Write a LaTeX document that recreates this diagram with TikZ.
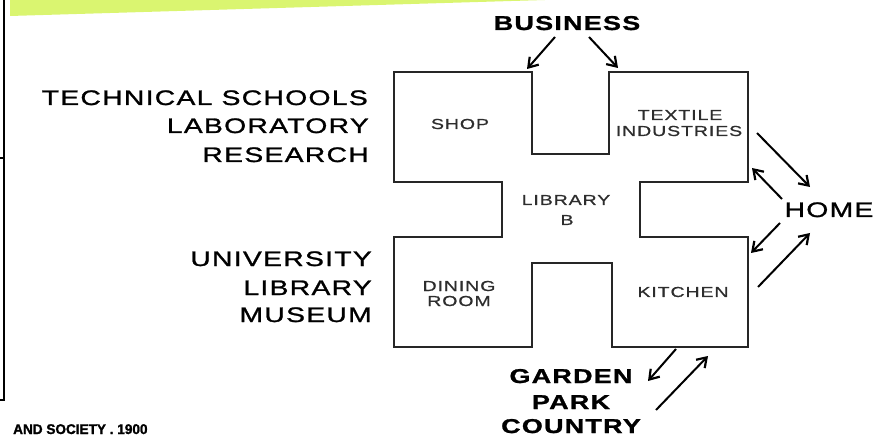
\documentclass[tikz,border=0pt]{standalone}
\usepackage{fontspec}
\setmainfont{Liberation Sans}
\newfontfamily\widefont[FakeStretch=1.35,LetterSpace=6,FakeBold=1.2]{Liberation Sans}
\newfontfamily\heavyfont[FakeStretch=1.35,LetterSpace=6,FakeBold=1.2]{Liberation Sans Bold}
\newfontfamily\roomfont[FakeStretch=1.35,LetterSpace=6,FakeBold=0.8]{Liberation Sans}
\newfontfamily\captionfont[FakeStretch=0.97,FakeBold=1.5]{Liberation Sans Bold}
\usetikzlibrary{arrows.meta}

\definecolor{bandgreen}{RGB}{218,245,112}
\definecolor{roomgray}{RGB}{45,45,45}

\tikzset{
  wall/.style={line width=2pt, draw=black!85, line join=miter},
  flow/.style={line width=2pt, -{Straight Barb[length=9pt,width=12pt,line width=2.2pt]}},
  biglabel/.style={inner sep=0pt, anchor=base east, font=\widefont\fontsize{21}{28}\selectfont},
  boldlabel/.style={inner sep=0pt, anchor=base, font=\heavyfont\fontsize{20}{28}\selectfont},
  roomlabel/.style={inner sep=0pt, anchor=base, text=roomgray, font=\roomfont\fontsize{14.5}{16}\selectfont}
}

\begin{document}
\begin{tikzpicture}[x=1pt, y=-1pt]
    \useasboundingbox (0,0) rectangle (875,438);

    % band and frame
    \fill[bandgreen] (10,0) -- (10,16) -- (545,0) -- cycle;
    \draw[line width=2pt] (4,0) -- (4,400) -- (0,400);
    \draw[line width=2pt] (0,158) -- (4,158);

    % plan of the house
    \draw[wall] (394,72) -- (532,72) -- (532,154) -- (609,154) -- (609,72)
        -- (748,72) -- (748,182) -- (640,182) -- (640,237) -- (748,237)
        -- (748,347) -- (612,347) -- (612,263) -- (532,263) -- (532,347)
        -- (394,347) -- (394,237) -- (502,237) -- (502,182) -- (394,182) -- cycle;

    % rooms
    \node[roomlabel] (shop) at (460,129) {SHOP};
    \node[roomlabel] (textile) at (680,120) {TEXTILE};
    \node[roomlabel] (industries) at (679,136) {INDUSTRIES};
    \node[roomlabel] (library) at (566,205) {LIBRARY};
    \node[roomlabel] (libb) at (567,225) {B};
    \node[roomlabel] (dining) at (459,291) {DINING};
    \node[roomlabel] (room) at (459,306) {ROOM};
    \node[roomlabel] (kitchen) at (683,297) {KITCHEN};

    % left groups
    \node[biglabel] (technical) at (368,105) {TECHNICAL SCHOOLS};
    \node[biglabel] (laboratory) at (369,133) {LABORATORY};
    \node[biglabel] (research) at (369,162) {RESEARCH};
    \node[biglabel] (university) at (372,266) {UNIVERSITY};
    \node[biglabel] (unilibrary) at (372,295) {LIBRARY};
    \node[biglabel] (museum) at (372,322) {MUSEUM};

    % outside
    \node[boldlabel] (business) at (567,30) {BUSINESS};
    \node[inner sep=0pt, anchor=base, font=\widefont\fontsize{21}{28}\selectfont] (home) at (829,217) {HOME};
    \node[boldlabel] (garden) at (571,383) {GARDEN};
    \node[boldlabel] (park) at (571,409) {PARK};
    \node[boldlabel] (country) at (571,433) {COUNTRY};
    \node[inner sep=0pt, anchor=base west, font=\captionfont\fontsize{14}{16}\selectfont] (caption) at (13,434) {AND SOCIETY . 1900};

    % arrow ends
    \coordinate (bus-a) at (555,37);
    \coordinate (bus-b) at (589,37);
    \coordinate (shop-in) at (527,69);
    \coordinate (tex-in) at (618,68);
    \coordinate (tex-out) at (757,133);
    \coordinate (home-a) at (810,187);
    \coordinate (home-b) at (782,199);
    \coordinate (tex-back) at (752,168);
    \coordinate (home-c) at (780,223);
    \coordinate (kit-in) at (751,253);
    \coordinate (kit-out) at (758,287);
    \coordinate (home-d) at (810,233);
    \coordinate (kit-down) at (676,349);
    \coordinate (gar-in) at (648,381);
    \coordinate (cty-out) at (656,410);
    \coordinate (kit-up) at (708,356);

    % connections
    \draw[flow] (bus-a) -- (shop-in);
    \draw[flow] (bus-b) -- (tex-in);
    \draw[flow] (tex-out) -- (home-a);
    \draw[flow] (home-b) -- (tex-back);
    \draw[flow] (home-c) -- (kit-in);
    \draw[flow] (kit-out) -- (home-d);
    \draw[flow] (kit-down) -- (gar-in);
    \draw[flow] (cty-out) -- (kit-up);
\end{tikzpicture}
\end{document}
